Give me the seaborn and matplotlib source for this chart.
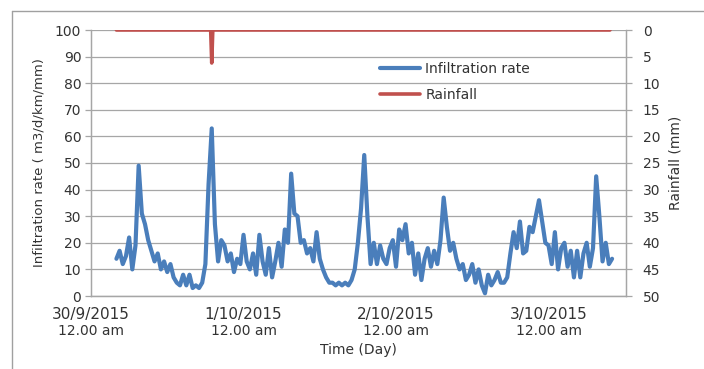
import pandas as pd
import numpy as np
import matplotlib
matplotlib.use('Agg')
import matplotlib.pyplot as plt
import matplotlib.dates as mdates
from matplotlib.lines import Line2D
from matplotlib.ticker import FuncFormatter, FixedLocator
import seaborn as sns

# Infiltration rate (m3/d/km/mm), every 30 min from 30/9/2015 04:00
infiltration = [14, 17, 12, 15, 22, 10, 19, 49, 31, 27,
                21, 17, 13, 16, 10, 13, 9, 12, 7, 5,
                4, 8, 4, 8, 3, 4, 3, 5, 12, 42,
                63, 27, 13, 21, 19, 13, 16, 9, 14, 12,
                23, 13, 10, 16, 8, 23, 13, 8, 18, 7,
                13, 20, 11, 25, 20, 46, 31, 30, 20, 21,
                16, 18, 13, 24, 14, 10, 7, 5, 5, 4,
                5, 4, 5, 4, 6, 10, 20, 33, 53, 30,
                12, 20, 12, 19, 14, 12, 18, 21, 11, 25,
                21, 27, 16, 20, 8, 16, 6, 14, 18, 11,
                17, 12, 21, 37, 26, 17, 20, 14, 10, 12,
                6, 8, 12, 5, 10, 4, 1, 8, 4, 6,
                9, 5, 5, 7, 16, 24, 18, 28, 16, 17,
                26, 24, 30, 36, 28, 20, 19, 12, 24, 10,
                18, 20, 11, 17, 7, 17, 7, 16, 20, 11,
                18, 45, 30, 13, 20, 12, 14]
start_time = '2015-09-30 04:00'

# Rainfall (mm), one short event in the evening of 30/9
rain_times = ['2015-09-30 04:00', '2015-09-30 18:50', '2015-09-30 19:00',
              '2015-09-30 19:10', '2015-10-03 09:40']
rain_mm = [0, 0, 6.2, 0, 0]

tick_days = ['2015-09-30', '2015-10-01', '2015-10-02', '2015-10-03']

blue = '#4a7ebb'
red = '#c0504d'
grey = '#a6a6a6'
txt = '#333333'

sns.set_style('white')
plt.rcParams['font.family'] = ['DejaVu Sans']

times = pd.date_range(start_time, periods=len(infiltration), freq='30min')
df = pd.DataFrame({'time': times, 'rate': infiltration})
rain = pd.DataFrame({'time': pd.to_datetime(rain_times), 'mm': rain_mm})

fig = plt.figure(figsize=(7.04, 3.69), dpi=100)
ax = fig.add_axes([91 / 704, 1 - 296 / 369, 535 / 704, 266 / 369])

sns.lineplot(data=df, x='time', y='rate', ax=ax, color=blue, lw=3,
             label='Infiltration rate', legend=False)
ax.set_ylim(0, 100)
ax.set_yticks(np.arange(0, 101, 10))
x0 = pd.Timestamp('2015-09-30')
ax.set_xlim(x0, x0 + pd.Timedelta(days=3.508))
ax.grid(axis='y', color=grey, lw=0.9)
ax.grid(axis='x', visible=False)

ax2 = ax.twinx()
sns.lineplot(data=rain, x='time', y='mm', ax=ax2, color=red, lw=2.6,
             label='Rainfall', legend=False)
ax2.set_ylim(50, 0)
ax2.set_yticks(np.arange(0, 51, 5))
ax2.grid(False)

for a in (ax, ax2):
    for s in a.spines.values():
        s.set_color(grey)
        s.set_linewidth(0.9)
    a.spines['top'].set_visible(False)

# dates on two lines, smaller time underneath
ticks = mdates.date2num(pd.to_datetime(tick_days))
ax.xaxis.set_major_locator(FixedLocator(ticks))
ax.xaxis.set_major_formatter(FuncFormatter(
    lambda v, p: '{d.day}/{d.month}/{d.year}'.format(d=mdates.num2date(v))))
ax.xaxis.remove_overlapping_locs = False
ax.xaxis.set_minor_locator(FixedLocator(ticks))
ax.xaxis.set_minor_formatter(FuncFormatter(lambda v, p: '12.00 am'))
ax.tick_params(axis='x', which='major', length=4, width=0.9, color=grey,
               labelsize=11, labelcolor=txt, pad=4)
ax.tick_params(axis='x', which='minor', length=0, labelsize=10,
               labelcolor=txt, pad=20)
ax.tick_params(axis='y', length=4, width=0.9, color=grey, labelsize=10,
               labelcolor=txt, pad=3)
ax2.tick_params(axis='y', length=4, width=0.9, color=grey, labelsize=10,
                labelcolor=txt, pad=8)

ax.set_xlabel('Time (Day)', fontsize=10, color=txt, labelpad=4)
ax.set_ylabel('Infiltration rate ( m3/d/km/mm)', fontsize=9.5, color=txt,
              labelpad=7)
ax2.set_ylabel('Rainfall (mm)', fontsize=10, color=txt, labelpad=6)

h1, l1 = ax.get_legend_handles_labels()
h2, l2 = ax2.get_legend_handles_labels()
ax2.legend(h1 + h2, l1 + l2, loc='upper left', frameon=False,
           bbox_to_anchor=(380 / 704, 1 - 62 / 369), bbox_transform=fig.transFigure,
           fontsize=10, handlelength=2.9, handletextpad=0.35, labelspacing=0.85,
           borderpad=0, borderaxespad=0, labelcolor=txt)

# outer frame, only its top and left edges are inside the picture
fig.add_artist(Line2D([12 / 704, 12 / 704], [-0.05, 1 - 11 / 369],
                      transform=fig.transFigure, color='#a0a0a0', lw=1))
fig.add_artist(Line2D([12 / 704, 1.05], [1 - 11 / 369, 1 - 11 / 369],
                      transform=fig.transFigure, color='#a0a0a0', lw=1))

fig.savefig('out.png', dpi=100)
